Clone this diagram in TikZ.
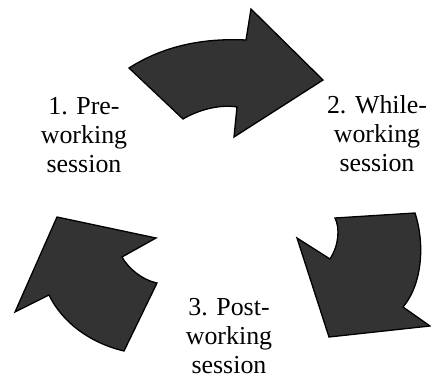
\documentclass[tikz,border=0pt]{standalone}
\usepackage{fontspec}
\setmainfont{Liberation Serif}
\newfontfamily\labelfont{Liberation Serif}
\begin{document}
\begin{tikzpicture}[x=1bp,y=-1bp,
  cyclearrow/.style={fill=arrowgray,draw=black,line width=1.3bp,line join=miter},
  steplabel/.style={align=center,inner sep=0pt,font=\labelfont\fontsize{26}{28.7}\selectfont,anchor=base}]
\definecolor{arrowgray}{HTML}{333333}
\useasboundingbox (0,0) rectangle (431,380);
% arrow 1 (top)
\path[cyclearrow] (129,68) .. controls (165,45) and (205,38) .. (246,40)
  -- (251,9) -- (323,80) -- (234,137) -- (237,107)
  .. controls (220,104) and (198,110) .. (183,119) -- cycle;
% arrow 2 (right)
\path[cyclearrow] (335,218) -- (415,213)
  .. controls (424,240) and (424,282) .. (403,307)
  -- (430,326) -- (329,337) -- (297,238) -- (330,259)
  .. controls (339,245) and (340,228) .. (335,218) -- cycle;
% arrow 3 (left)
\path[cyclearrow] (124,351) -- (157,283)
  .. controls (142,280) and (128,268) .. (122,257)
  -- (156,238) -- (57,217) -- (15,312) -- (49,295)
  .. controls (62,322) and (90,343) .. (124,351) -- cycle;
\node[steplabel] (l1) at (84,172) {1. Pre-\\working\\session};
\node[steplabel] (l2) at (377,171) {2. While-\\working\\session};
\node[steplabel] (l3) at (229,373) {3. Post-\\working\\session};
\end{tikzpicture}
\end{document}
